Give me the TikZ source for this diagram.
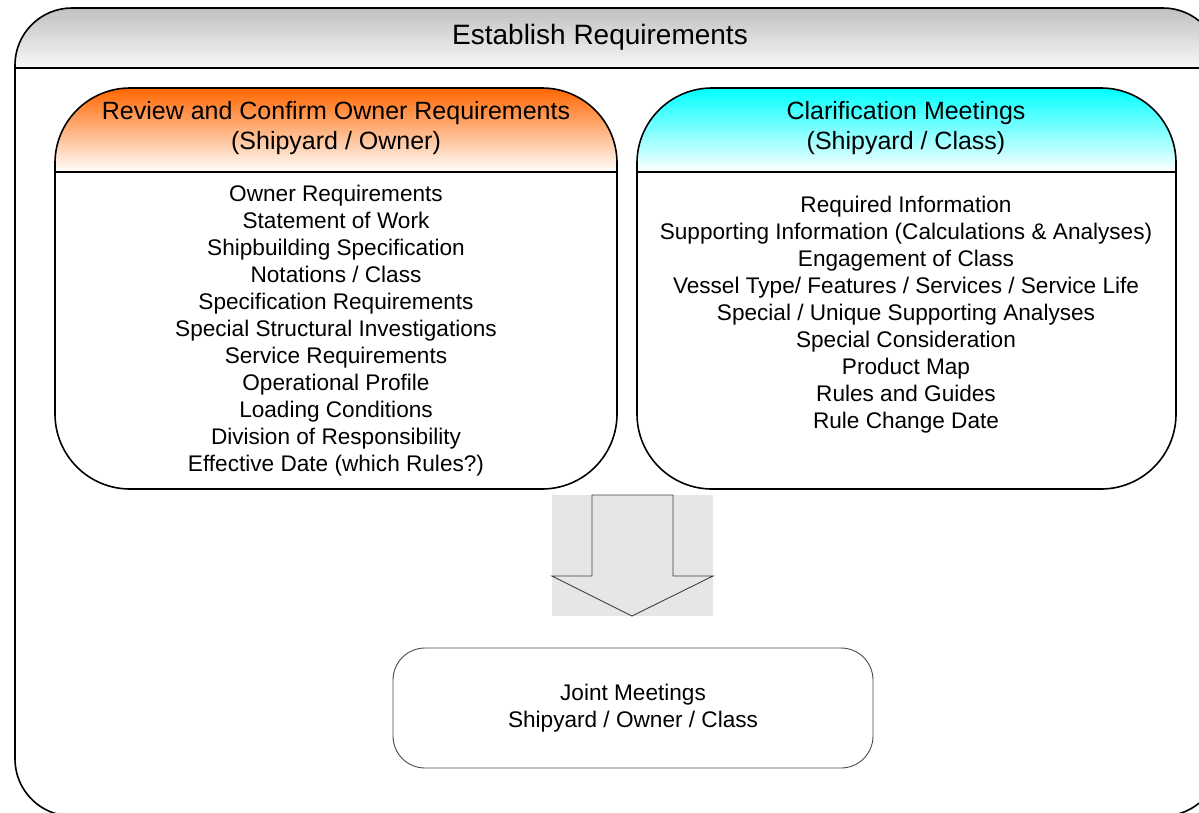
\documentclass[tikz,border=0pt]{standalone}
\usepackage{fontspec}
\setmainfont{Liberation Sans}
\usetikzlibrary{positioning}
\definecolor{hdrorange}{RGB}{255,102,0}
\definecolor{hdrcyan}{RGB}{0,255,255}
\definecolor{bandgray}{RGB}{192,192,192}
\definecolor{bandlight}{RGB}{248,248,248}
\definecolor{arrowgray}{RGB}{230,230,230}
\tikzset{
    frameline/.style={line width=1.6pt, black},
    arrowline/.style={line width=0.9pt, black!75},
    headtext/.style={align=center, font=\fontsize{25}{30}\selectfont},
    listtext/.style={align=center, font=\fontsize{22.6}{27}\selectfont},
}

\begin{document}
\begin{tikzpicture}[x=1pt,y=-1pt]
    \useasboundingbox (0,0) rectangle (1199,812);
    \clip (0,0) rectangle (1199,812);
    \fill[white] (0,0) rectangle (1199,812);

    % outer frame with the title band
    \begin{scope}
        \clip[rounded corners=57pt] (15,400) -- (15,8) -- (1220,8) -- (1220,816) -- (15,816) -- cycle;
        \shade[top color=bandgray, bottom color=bandlight] (15,8) rectangle (1220,68);
    \end{scope}
    \draw[frameline, rounded corners=57pt] (15,400) -- (15,8) -- (1220,8) -- (1220,816) -- (15,816) -- cycle;
    \draw[frameline] (15,68) -- (1220,68);
    \node[font=\fontsize{28}{34}\selectfont] (title) at (600,37) {Establish Requirements};

    % left box: owner requirements
    \begin{scope}
        \clip[rounded corners=75pt] (55,300) -- (55,88) -- (617,88) -- (617,489) -- (55,489) -- cycle;
        \shade[top color=hdrorange, bottom color=white] (55,88) rectangle (617,172);
    \end{scope}
    \draw[frameline, rounded corners=75pt] (55,300) -- (55,88) -- (617,88) -- (617,489) -- (55,489) -- cycle;
    \draw[frameline] (55,172) -- (617,172);
    \node[headtext] (ownerhead) at (336,128) {Review and Confirm Owner Requirements\\(Shipyard / Owner)};
    \node[listtext] (ownerlist) at (336,331) {Owner Requirements\\Statement of Work\\Shipbuilding Specification\\Notations / Class\\Specification Requirements\\Special Structural Investigations\\Service Requirements\\Operational Profile\\Loading Conditions\\Division of Responsibility\\Effective Date (which Rules?)};

    % right box: clarification meetings
    \begin{scope}
        \clip[rounded corners=75pt] (637,300) -- (637,88) -- (1176,88) -- (1176,489) -- (637,489) -- cycle;
        \shade[top color=hdrcyan, bottom color=white] (637,88) rectangle (1176,172);
    \end{scope}
    \draw[frameline, rounded corners=75pt] (637,300) -- (637,88) -- (1176,88) -- (1176,489) -- (637,489) -- cycle;
    \draw[frameline] (637,172) -- (1176,172);
    \node[headtext] (classhead) at (906,128) {Clarification Meetings\\(Shipyard / Class)};
    \node[listtext] (classlist) at (906,315) {Required Information\\Supporting Information (Calculations \& Analyses)\\Engagement of Class\\Vessel Type/ Features / Services / Service Life\\Special / Unique Supporting Analyses\\Special Consideration\\Product Map\\Rules and Guides\\Rule Change Date};

    % block arrow down to the joint meetings
    \fill[arrowgray] (552,495) rectangle (713,616);
    \draw[arrowline] (552,576) -- (592,576) -- (592,495) -- (673,495) -- (673,576) -- (713,576) -- (632,616) -- cycle;

    % joint meetings
    \node[listtext, draw=black!70, line width=0.9pt, rounded corners=32pt,
          minimum width=480pt, minimum height=120pt] (joint) at (633,708) {Joint Meetings\\Shipyard / Owner / Class};
\end{tikzpicture}
\end{document}
